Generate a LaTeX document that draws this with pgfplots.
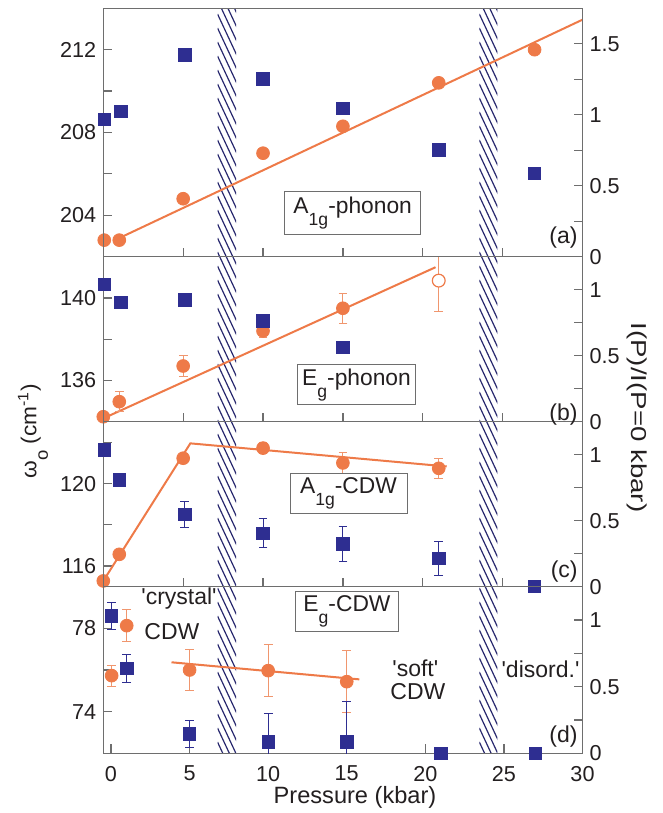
\documentclass[border=0pt]{standalone}
\usepackage{fontspec}
\setmainfont{Liberation Sans}
\usepackage{pgfplots}
\pgfplotsset{compat=1.18}

\definecolor{dotorange}{RGB}{238,122,72}
\definecolor{errorange}{RGB}{240,150,110}
\definecolor{sqblue}{RGB}{46,46,145}
\definecolor{hatchblue}{RGB}{40,40,110}
\definecolor{framegray}{RGB}{110,110,110}
\definecolor{txt}{RGB}{35,31,32}

\newcommand{\sub}[1]{\raisebox{-1.0ex}{\fontsize{8.8}{9}\selectfont #1}}
\newcommand{\q}{\textquotesingle}
% hatched band between pixel columns #1 and #2
\newcommand{\band}[2]{%
  \begin{scope}
    \clip (#1,8.3) rectangle (#2,753.3);
    \foreach \k in {-5,...,60}
      \draw[hatchblue, line width=0.6pt] (#1,{\k*14}) -- ++(22,47);
  \end{scope}}

\pgfplotsset{
  panel/.style={
    scale only axis, width=239.6pt, anchor=south west,
    xmin=0, xmax=30,
    axis line style={framegray, line width=0.6pt},
    tick style={framegray, line width=0.6pt},
    major tick length=4.5pt, minor tick length=4.5pt,
    tick align=inside,
    /pgf/number format/assume math mode=true,
    tick label style={font=\fontsize{10.8}{12}\selectfont, text=txt},
  },
  lefty/.style={panel, xtick={0,5,...,30}, xtick pos=left, xticklabels={}, ytick pos=left},
  righty/.style={panel, xtick=\empty, ytick pos=right, yticklabel pos=right,
    ymin=0, ymax=1.25, ytick={0,0.5,1}, minor ytick={0.25,0.75}},
  dot/.style={only marks, mark=*, mark size=3.2pt, color=dotorange},
  sq/.style={only marks, mark=square*, mark size=3.1pt, color=sqblue},
  fit/.style={no marks, dotorange, line width=1pt},
  oerr/.style={error bars/y dir=both, error bars/y explicit, error bars/error mark=|,
    error bars/error bar style={errorange, line width=0.5pt},
    error bars/error mark options={errorange, line width=0.5pt, mark size=2.2pt}},
  berr/.style={error bars/y dir=both, error bars/y explicit, error bars/error mark=|,
    error bars/error bar style={sqblue, line width=0.5pt},
    error bars/error mark options={sqblue, line width=0.5pt, mark size=2.2pt}},
}

\begin{document}
\begin{tikzpicture}
\path[use as bounding box] (0,0) rectangle (331.5pt,406.5pt);

% phase-boundary bands, in image pixel coordinates (drawn first, behind data)
\begin{scope}[x=0.5pt, y=-0.5pt, shift={(0pt,406.5pt)}]
\band{217.5}{236}
\band{479.3}{497.3}
\end{scope}

% (a) A1g phonon
\begin{axis}[lefty, at={(51.65pt,278.15pt)}, height=124.2pt,
  ymin=202, ymax=214, ytick={204,208,212}, minor ytick={206,210}]
\addplot[fit] coordinates {(1,202.9) (30,213.45)};
\addplot[dot] coordinates {(0.06,202.8) (1,202.8) (5,204.8) (10,207.0) (15,208.3) (21,210.4) (27,212.0)};
\end{axis}
\begin{axis}[righty, at={(51.65pt,278.15pt)}, height=124.2pt,
  ymax=1.75, ytick={0,0.5,1,1.5}, minor ytick={0.25,0.75,1.25}]
\addplot[sq] coordinates {(0.06,0.968) (1.1,1.022) (5.1,1.421) (10,1.252) (15,1.046) (21,0.752) (27,0.588)};
\end{axis}

% (b) Eg phonon
\begin{axis}[lefty, at={(51.65pt,195.65pt)}, height=82.5pt,
  ymin=134, ymax=142, ytick={136,140}, minor ytick={138}]
\addplot[fit] coordinates {(0,134.16) (20.8,141.49)};
\addplot[dot, oerr] coordinates {(0,134.24) +- (0,0.15) (1,134.97) +- (0,0.48) (5,136.70) +- (0,0.5) (10,138.4) +- (0,0.33) (15,139.5) +- (0,0.73)};
\addplot[dot, mark options={fill=white, draw=dotorange, line width=0.6pt}, oerr] coordinates {(21,140.84) +- (0,1.5)};
\end{axis}
\begin{axis}[righty, at={(51.65pt,195.65pt)}, height=82.5pt]
\addplot[sq] coordinates {(0.06,1.041) (1.1,0.905) (5.1,0.922) (10,0.765) (15,0.564)};
\end{axis}

% (c) A1g CDW
\begin{axis}[lefty, at={(51.65pt,113.15pt)}, height=82.5pt,
  ymin=115, ymax=123, ytick={116,120}, minor ytick={118,122}]
\addplot[fit] coordinates {(0,115.28) (5.45,121.95) (21.5,120.83)};
\addplot[dot, oerr] coordinates {(0,115.28) +- (0,0) (1,116.57) +- (0,0) (5,121.23) +- (0,0.15) (10,121.72) +- (0,0.25) (15,121.0) +- (0,0.5) (21,120.74) +- (0,0.47)};
\end{axis}
\begin{axis}[righty, at={(51.65pt,113.15pt)}, height=82.5pt]
\addplot[sq, berr] coordinates {(0.06,1.035) +- (0,0) (1,0.808) +- (0,0) (5.1,0.548) +- (0,0.1) (10,0.404) +- (0,0.11) (15,0.323) +- (0,0.13) (21,0.215) +- (0,0.13) (27,0) +- (0,0)};
\end{axis}

% (d) Eg CDW
\begin{axis}[lefty, at={(51.65pt,29.85pt)}, height=83.3pt, xmin=-0.49,
  xticklabels={0,5,10,15,20,25,30}, xticklabel style={yshift=-2.8pt},
  ymin=72, ymax=80, ytick={74,78}, minor ytick={76}]
\addplot[fit] coordinates {(3.85,76.37) (15.8,75.55)};
\addplot[dot, oerr] coordinates {(0.04,75.73) +- (0,0.5) (1,78.13) +- (0,0.78) (5,76.0) +- (0,1.0) (10,75.97) +- (0,1.25) (15,75.44) +- (0,1.5)};
\end{axis}
\begin{axis}[righty, at={(51.65pt,29.85pt)}, height=83.3pt, xmin=-0.49]
\addplot[sq, berr] coordinates {(0.04,1.03) +- (0,0.1) (1,0.638) +- (0,0.107) (5,0.145) +- (0,0.1) (10,0.087) +- (0,0.21) (15,0.087) +- (0,0.3) (21,0) +- (0,0) (27,0) +- (0,0)};
\end{axis}

% labels and annotations, in image pixel coordinates
\begin{scope}[x=0.5pt, y=-0.5pt, shift={(0pt,406.5pt)}, text=txt]
\node[font=\fontsize{11.8}{13}\selectfont] at (355,797) {Pressure (kbar)};
\node[rotate=90, xscale=1.05, font=\fontsize{10.8}{12}\selectfont] at (33,431) {ω\sub{o} (cm\textsuperscript{-1})};
\node[rotate=-90, xscale=1.28, font=\fontsize{10.8}{12}\selectfont] at (637,417.5) {I(P)/I(P=0 kbar)};
\tikzset{box/.style={draw=framegray, fill=white, line width=0.5pt, inner sep=0pt, font=\fontsize{11.4}{13}\selectfont}}
\node[box, minimum width=68pt, minimum height=21.5pt] at (352.7,213.3) {A\sub{1g}-phonon};
\node[box, minimum width=59pt, minimum height=20pt] at (356.5,385) {E\sub{g}-phonon};
\node[box, minimum width=58.5pt, minimum height=20pt] at (348.5,493.3) {A\sub{1g}-CDW};
\node[box, minimum width=51.6pt, minimum height=20pt] at (347,611.7) {E\sub{g}-CDW};
\tikzset{lbl/.style={font=\fontsize{11.5}{13}\selectfont, inner sep=0pt}}
\node[lbl, anchor=east] at (578,238) {(a)};
\node[lbl, anchor=east] at (578,415) {(b)};
\node[lbl, anchor=east] at (578,571.7) {(c)};
\node[lbl, anchor=east] at (578,736.7) {(d)};
\node[lbl, anchor=west] at (141,598.3) {\q crystal\q};
\node[lbl, anchor=west] at (144,631.7) {CDW};
\node[lbl, anchor=west] at (392,668.3) {\q soft\q};
\node[lbl, anchor=west] at (390,691.7) {CDW};
\node[lbl] at (540.5,669.3) {\q disord.\q};
\end{scope}
\end{tikzpicture}
\end{document}
